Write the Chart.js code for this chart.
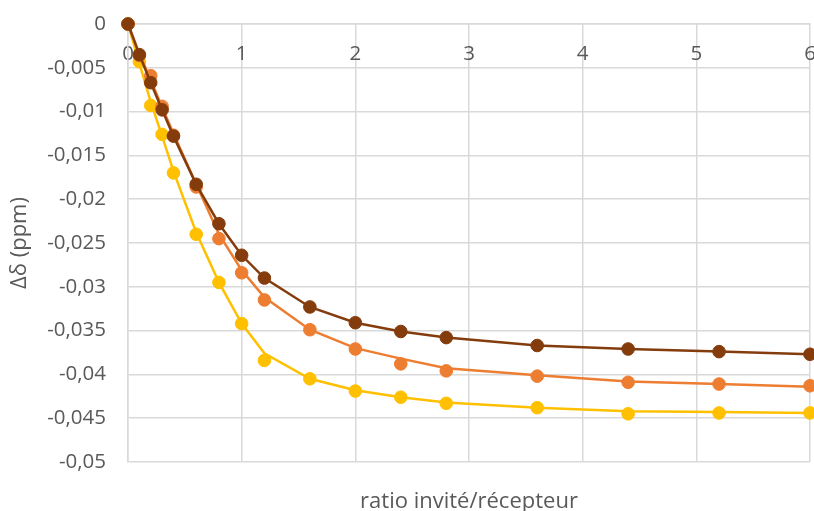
<!DOCTYPE html>
<html>
<head>
<meta charset="utf-8">
<script src="https://cdn.jsdelivr.net/npm/chart.js@4"></script>
<style>
  html, body { margin: 0; padding: 0; background: #ffffff; }
  #wrap { width: 814px; height: 511px; }
</style>
</head>
<body>
<div id="wrap"><canvas id="c" width="814" height="511"></canvas></div>
<script>
// ratio invité/récepteur
const ratios = [0, 0.1, 0.2, 0.3, 0.4, 0.6, 0.8, 1, 1.2, 1.6, 2, 2.4, 2.8, 3.6, 4.4, 5.2, 6];

// measured points
const brownPts  = [0, -0.0035, -0.0067, -0.0098, -0.0128, -0.0183, -0.0228, -0.0264, -0.0290, -0.0323, -0.0341, -0.0351, -0.0358, -0.0367, -0.0371, -0.0374, -0.0377];
const orangePts = [0, -0.0036, -0.0059, -0.0094, -0.0127, -0.0186, -0.0245, -0.0284, -0.0315, -0.0349, -0.0371, -0.0388, -0.0396, -0.0402, -0.0409, -0.0411, -0.0413];
const yellowPts = [0, -0.0043, -0.0093, -0.0126, -0.0170, -0.0240, -0.0295, -0.0342, -0.0384, -0.0405, -0.0419, -0.0426, -0.0433, -0.0438, -0.0445, -0.0444, -0.0444];

// fitted curves
const brownFit  = [0, -0.0035, -0.0067, -0.0098, -0.0128, -0.0183, -0.0228, -0.0264, -0.0290, -0.0323, -0.0341, -0.0351, -0.0358, -0.0367, -0.0371, -0.0374, -0.0377];
const orangeFit = [0, -0.0034, -0.0064, -0.0095, -0.0125, -0.0183, -0.0240, -0.0281, -0.0312, -0.0349, -0.0370, -0.0382, -0.0393, -0.0401, -0.0408, -0.0411, -0.0414];
const yellowFit = [0, -0.0045, -0.0089, -0.0128, -0.0168, -0.0238, -0.0295, -0.0342, -0.0376, -0.0405, -0.0418, -0.0426, -0.0432, -0.0438, -0.0442, -0.0443, -0.0444];

const xTicks = [0, 1, 2, 3, 4, 5, 6];
const yMin = -0.05, yMax = 0, yStep = 0.005;

const xTitle = 'ratio invité/récepteur';
const yTitle = 'Δδ (ppm)';

const colBrown = '#843C0C', colOrange = '#ED7D31', colYellow = '#FFC000';
const textCol = '#595959', gridCol = '#d9d9d9';
const FONT = '"Open Sans", "Liberation Sans", sans-serif';

const toXY = (ys) => ys.map((y, i) => ({ x: ratios[i], y: y }));

function ptsSet(ys, col) {
  return { data: toXY(ys), showLine: false, pointRadius: 6.3, pointHoverRadius: 6.3, clip: false,
           pointBackgroundColor: col, pointBorderColor: col, pointBorderWidth: 1, borderColor: col, backgroundColor: col };
}
function lineSet(ys, col) {
  return { data: toXY(ys), showLine: true, pointRadius: 0, borderColor: col, borderWidth: 2.5, tension: 0, fill: false };
}
function noPad(s) { s.paddingTop = 0; s.paddingBottom = 0; s.paddingLeft = 0; s.paddingRight = 0; }

new Chart(document.getElementById('c'), {
  type: 'scatter',
  data: {
    datasets: [
      ptsSet(brownPts, colBrown), lineSet(brownFit, colBrown),
      ptsSet(orangePts, colOrange), lineSet(orangeFit, colOrange),
      ptsSet(yellowPts, colYellow), lineSet(yellowFit, colYellow)
    ]
  },
  options: {
    responsive: false,
    animation: false,
    events: [],
    layout: { autoPadding: false, padding: { left: 0, right: 4, top: 24, bottom: 0 } },
    plugins: { legend: { display: false }, tooltip: { enabled: false } },
    scales: {
      x: {
        type: 'linear', position: { y: 0 }, min: 0, max: 6,
        afterBuildTicks: (s) => { s.ticks = xTicks.map(v => ({ value: v })); },
        ticks: { color: textCol, font: { family: FONT, size: 20.5 }, padding: 18, maxRotation: 0,
                 callback: (v) => String(v) },
        grid: { color: gridCol, lineWidth: 1.5, drawTicks: false },
        border: { color: gridCol, width: 1.5 },
        afterFit: (s) => { noPad(s); }
      },
      x2: {
        type: 'linear', position: 'bottom', axis: 'x', min: 0, max: 6,
        ticks: { display: false },
        grid: { display: false, drawTicks: false },
        border: { display: false },
        title: { display: true, text: xTitle, color: textCol, font: { family: FONT, size: 22 }, padding: { top: 25, bottom: -4 } },
        afterFit: (s) => { s.height = 49; noPad(s); }
      },
      y: {
        type: 'linear', position: 'left', min: yMin, max: yMax,
        ticks: { stepSize: yStep, color: textCol, font: { family: FONT, size: 20.5 }, padding: 22,
                 callback: (v) => { const r = +(+v).toFixed(4); return r === 0 ? '0' : String(r).replace('.', ','); } },
        grid: { color: gridCol, lineWidth: 1.5, drawTicks: false },
        border: { color: gridCol, width: 1.5 },
        title: { display: true, text: yTitle, color: textCol, font: { family: FONT, size: 22 }, padding: { top: 7, bottom: 0 } },
        afterFit: (s) => { s.width = 128; noPad(s); }
      }
    }
  }
});
</script>
</body>
</html>
